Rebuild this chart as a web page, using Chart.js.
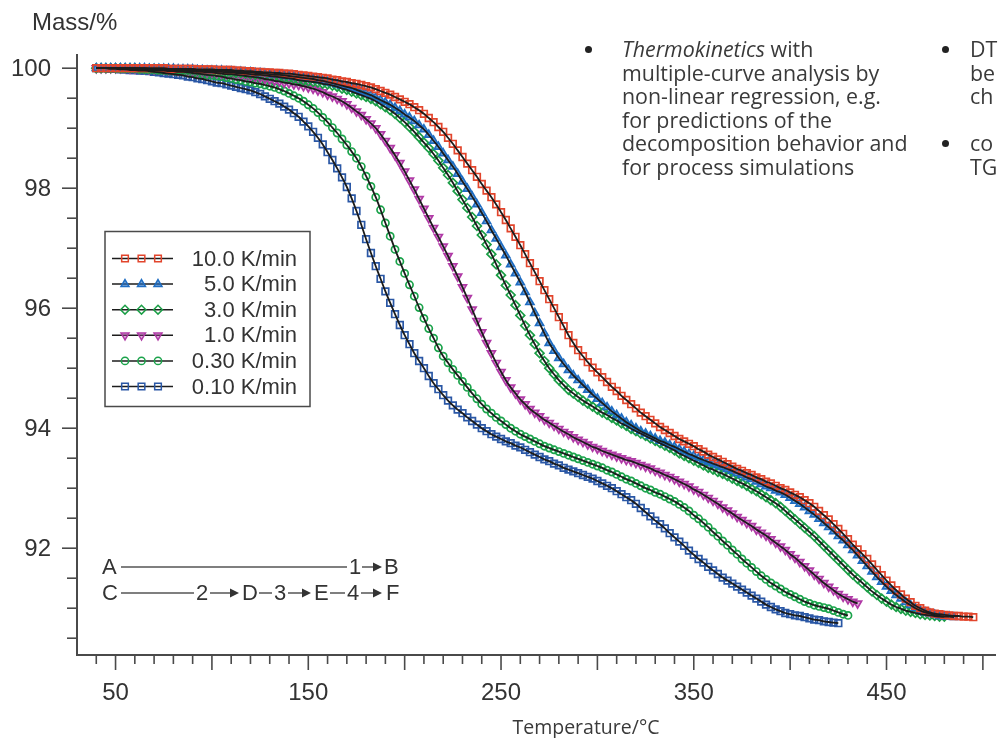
<!DOCTYPE html>
<html>
<head>
<meta charset="utf-8">
<script src="https://cdn.jsdelivr.net/npm/chart.js@4.4.1/dist/chart.umd.min.js"></script>
<style>
html, body { margin: 0; padding: 0; background: #fff; overflow: hidden; }
#wrap { position: relative; width: 1002px; height: 738px; overflow: hidden; }
#tga { position: absolute; left: 0; top: 0; }
.note { position: absolute; font-family: "Open Sans", sans-serif; font-size: 21.4px; line-height: 23.5px; color: #3a3a3a; white-space: nowrap; }
.dot { position: absolute; width: 7px; height: 7px; border-radius: 50%; background: #222; }
#xtitle { position: absolute; left: 0; width: 1172px; top: 714px; line-height: 26px; text-align: center; font-family: "Open Sans", sans-serif; font-size: 19.5px; color: #3a3a3a; }
</style>
</head>
<body>
<div id="wrap">
  <canvas id="tga" width="1002" height="738"></canvas>
  <div class="dot" style="left:585px; top:46px;"></div>
  <div class="note" style="left:622px; top:37px;"><i>Thermokinetics</i> with<br>multiple-curve analysis by<br>non-linear regression, e.g.<br>for predictions of the<br>decomposition behavior and<br>for process simulations</div>
  <div class="dot" style="left:942px; top:46px;"></div>
  <div class="note" style="left:970px; top:37px;">DT<br>be<br>ch</div>
  <div class="dot" style="left:942px; top:140px;"></div>
  <div class="note" style="left:970px; top:131px;">co<br>TG</div>
  <div id="xtitle">Temperature/°C</div>
</div>
<script>
// temperatures the markers sit at (°C)
const temps = [40, 42.5, 45, 47.5, 50, 52.5, 55, 57.5, 60, 62.5, 65, 67.5, 70, 72.5, 75, 77.5, 80, 82.5, 85, 87.5,
  90, 92.5, 95, 97.5, 100, 102.5, 105, 107.5, 110, 112.5, 115, 117.5, 120, 122.5, 125, 127.5, 130, 132.5, 135, 137.5,
  140, 142.5, 145, 147.5, 150, 152.5, 155, 157.5, 160, 162.5, 165, 167.5, 170, 172.5, 175, 177.5, 180, 182.5, 185, 187.5,
  190, 192.5, 195, 197.5, 200, 202.5, 205, 207.5, 210, 212.5, 215, 217.5, 220, 222.5, 225, 227.5, 230, 232.5, 235, 237.5,
  240, 242.5, 245, 247.5, 250, 252.5, 255, 257.5, 260, 262.5, 265, 267.5, 270, 272.5, 275, 277.5, 280, 282.5, 285, 287.5,
  290, 292.5, 295, 297.5, 300, 302.5, 305, 307.5, 310, 312.5, 315, 317.5, 320, 322.5, 325, 327.5, 330, 332.5, 335, 337.5,
  340, 342.5, 345, 347.5, 350, 352.5, 355, 357.5, 360, 362.5, 365, 367.5, 370, 372.5, 375, 377.5, 380, 382.5, 385, 387.5,
  390, 392.5, 395, 397.5, 400, 402.5, 405, 407.5, 410, 412.5, 415, 417.5, 420, 422.5, 425, 427.5, 430, 432.5, 435, 437.5,
  440, 442.5, 445, 447.5, 450, 452.5, 455, 457.5, 460, 462.5, 465, 467.5, 470, 472.5, 475, 477.5, 480, 482.5, 485, 487.5,
  490, 492.5, 495];

// mass in % per heating rate, one value per temperature above
const mass10 = [100.00, 100.00, 100.00, 100.00, 100.00, 100.00, 100.00, 100.00, 100.00, 100.00, 100.00, 100.00, 100.00, 100.00, 100.00, 99.99, 99.99, 99.99, 99.99, 99.99,
  99.99, 99.98, 99.98, 99.98, 99.98, 99.97, 99.97, 99.97, 99.97, 99.96, 99.96, 99.95, 99.95, 99.94, 99.94, 99.93, 99.93, 99.92, 99.92, 99.91,
  99.91, 99.90, 99.89, 99.88, 99.87, 99.86, 99.85, 99.84, 99.83, 99.81, 99.80, 99.78, 99.77, 99.75, 99.74, 99.72, 99.70, 99.68, 99.65, 99.62,
  99.59, 99.56, 99.52, 99.48, 99.44, 99.40, 99.35, 99.30, 99.24, 99.17, 99.10, 99.02, 98.94, 98.84, 98.74, 98.63, 98.52, 98.41, 98.30, 98.19,
  98.07, 97.96, 97.85, 97.73, 97.60, 97.47, 97.33, 97.19, 97.05, 96.90, 96.75, 96.60, 96.45, 96.30, 96.15, 96.00, 95.85, 95.70, 95.55, 95.42,
  95.30, 95.20, 95.10, 95.01, 94.93, 94.85, 94.77, 94.69, 94.62, 94.54, 94.47, 94.40, 94.33, 94.26, 94.20, 94.14, 94.08, 94.02, 93.97, 93.92,
  93.87, 93.82, 93.78, 93.74, 93.70, 93.65, 93.61, 93.56, 93.52, 93.48, 93.44, 93.40, 93.36, 93.32, 93.29, 93.25, 93.22, 93.18, 93.15, 93.11,
  93.08, 93.04, 93.00, 92.97, 92.93, 92.89, 92.85, 92.80, 92.75, 92.69, 92.62, 92.55, 92.48, 92.40, 92.32, 92.24, 92.15, 92.06, 91.98, 91.90,
  91.82, 91.73, 91.64, 91.55, 91.46, 91.38, 91.30, 91.23, 91.16, 91.10, 91.04, 91.00, 90.96, 90.93, 90.91, 90.90, 90.89, 90.88, 90.87, 90.87,
  90.86, 90.86, 90.85];
const mass5 = [100.00, 100.00, 100.00, 100.00, 100.00, 100.00, 100.00, 100.00, 100.00, 100.00, 100.00, 99.99, 99.99, 99.99, 99.99, 99.99, 99.99, 99.98, 99.98, 99.98,
  99.98, 99.97, 99.97, 99.96, 99.96, 99.96, 99.96, 99.95, 99.95, 99.94, 99.94, 99.93, 99.93, 99.92, 99.92, 99.91, 99.90, 99.89, 99.89, 99.88,
  99.87, 99.86, 99.85, 99.84, 99.83, 99.82, 99.80, 99.79, 99.77, 99.75, 99.73, 99.71, 99.69, 99.67, 99.64, 99.61, 99.58, 99.55, 99.51, 99.47,
  99.43, 99.39, 99.34, 99.29, 99.23, 99.18, 99.12, 99.05, 98.98, 98.89, 98.79, 98.69, 98.58, 98.47, 98.36, 98.24, 98.11, 97.99, 97.86, 97.73,
  97.59, 97.45, 97.30, 97.16, 97.02, 96.88, 96.73, 96.58, 96.43, 96.27, 96.10, 95.92, 95.75, 95.58, 95.42, 95.29, 95.17, 95.07, 94.97, 94.88,
  94.80, 94.72, 94.64, 94.56, 94.49, 94.42, 94.35, 94.28, 94.22, 94.16, 94.10, 94.05, 94.00, 93.95, 93.91, 93.87, 93.83, 93.79, 93.76, 93.72,
  93.69, 93.65, 93.61, 93.57, 93.54, 93.50, 93.47, 93.44, 93.41, 93.38, 93.35, 93.32, 93.29, 93.25, 93.22, 93.18, 93.15, 93.11, 93.07, 93.03,
  93.00, 92.96, 92.93, 92.89, 92.84, 92.79, 92.74, 92.68, 92.62, 92.56, 92.49, 92.42, 92.35, 92.28, 92.20, 92.13, 92.05, 91.97, 91.88, 91.79,
  91.70, 91.61, 91.52, 91.44, 91.36, 91.29, 91.22, 91.16, 91.10, 91.05, 91.00, 90.96, 90.93, 90.91, 90.89, 90.87, 90.86, 90.86, 90.85];
const mass3 = [100.00, 100.00, 100.00, 100.00, 100.00, 100.00, 100.00, 100.00, 100.00, 99.99, 99.99, 99.99, 99.99, 99.98, 99.98, 99.98, 99.98, 99.97, 99.97, 99.97,
  99.97, 99.96, 99.96, 99.95, 99.95, 99.94, 99.94, 99.93, 99.93, 99.92, 99.92, 99.91, 99.90, 99.89, 99.89, 99.88, 99.87, 99.86, 99.85, 99.84,
  99.83, 99.82, 99.80, 99.79, 99.78, 99.77, 99.76, 99.74, 99.73, 99.71, 99.69, 99.66, 99.64, 99.61, 99.58, 99.55, 99.52, 99.49, 99.45, 99.40,
  99.35, 99.30, 99.24, 99.17, 99.10, 99.02, 98.94, 98.85, 98.76, 98.67, 98.57, 98.46, 98.34, 98.22, 98.09, 97.95, 97.81, 97.67, 97.52, 97.37,
  97.22, 97.06, 96.90, 96.73, 96.55, 96.38, 96.22, 96.05, 95.88, 95.71, 95.55, 95.40, 95.25, 95.12, 95.00, 94.90, 94.80, 94.72, 94.64, 94.58,
  94.52, 94.46, 94.41, 94.36, 94.31, 94.26, 94.22, 94.17, 94.13, 94.08, 94.04, 93.99, 93.95, 93.91, 93.87, 93.83, 93.79, 93.75, 93.71, 93.67,
  93.63, 93.58, 93.54, 93.50, 93.46, 93.42, 93.38, 93.34, 93.31, 93.27, 93.24, 93.20, 93.16, 93.12, 93.08, 93.04, 92.99, 92.95, 92.90, 92.85,
  92.80, 92.75, 92.69, 92.62, 92.55, 92.48, 92.41, 92.34, 92.27, 92.20, 92.12, 92.04, 91.96, 91.88, 91.80, 91.72, 91.64, 91.56, 91.49, 91.42,
  91.35, 91.28, 91.22, 91.16, 91.11, 91.06, 91.02, 90.99, 90.96, 90.94, 90.92, 90.90, 90.89, 90.88, 90.87, 90.86, 90.86];
const mass1 = [100.00, 100.00, 100.00, 100.00, 100.00, 100.00, 100.00, 99.99, 99.99, 99.99, 99.99, 99.98, 99.98, 99.98, 99.98, 99.97, 99.97, 99.96, 99.96, 99.95,
  99.95, 99.94, 99.94, 99.93, 99.93, 99.92, 99.91, 99.90, 99.90, 99.89, 99.88, 99.87, 99.86, 99.85, 99.84, 99.82, 99.81, 99.79, 99.78, 99.76,
  99.75, 99.73, 99.72, 99.70, 99.68, 99.66, 99.63, 99.60, 99.56, 99.53, 99.49, 99.45, 99.40, 99.34, 99.28, 99.22, 99.15, 99.08, 99.00, 98.90,
  98.79, 98.67, 98.55, 98.42, 98.28, 98.13, 97.98, 97.82, 97.66, 97.50, 97.34, 97.19, 97.03, 96.87, 96.70, 96.53, 96.35, 96.17, 95.98, 95.79,
  95.60, 95.42, 95.25, 95.09, 94.94, 94.80, 94.68, 94.58, 94.48, 94.40, 94.32, 94.26, 94.20, 94.14, 94.09, 94.04, 93.99, 93.94, 93.90, 93.85,
  93.81, 93.77, 93.73, 93.69, 93.66, 93.62, 93.59, 93.56, 93.53, 93.50, 93.47, 93.45, 93.42, 93.39, 93.36, 93.33, 93.29, 93.26, 93.22, 93.19,
  93.15, 93.11, 93.07, 93.03, 92.98, 92.94, 92.89, 92.84, 92.79, 92.74, 92.68, 92.63, 92.58, 92.52, 92.47, 92.42, 92.37, 92.31, 92.26, 92.21,
  92.15, 92.09, 92.03, 91.97, 91.90, 91.84, 91.77, 91.70, 91.63, 91.56, 91.49, 91.42, 91.36, 91.30, 91.24, 91.19, 91.15, 91.11, 91.08];
const mass03 = [100.00, 100.00, 100.00, 100.00, 100.00, 99.99, 99.99, 99.99, 99.99, 99.98, 99.98, 99.97, 99.97, 99.96, 99.96, 99.95, 99.95, 99.94, 99.94, 99.93,
  99.92, 99.91, 99.90, 99.89, 99.88, 99.87, 99.86, 99.84, 99.83, 99.81, 99.80, 99.78, 99.77, 99.75, 99.74, 99.72, 99.70, 99.68, 99.65, 99.62,
  99.58, 99.54, 99.50, 99.45, 99.39, 99.33, 99.26, 99.18, 99.10, 99.01, 98.92, 98.82, 98.72, 98.61, 98.50, 98.36, 98.20, 98.03, 97.85, 97.64,
  97.42, 97.20, 96.98, 96.78, 96.58, 96.39, 96.20, 96.01, 95.83, 95.66, 95.50, 95.34, 95.20, 95.09, 94.98, 94.88, 94.78, 94.68, 94.58, 94.49,
  94.40, 94.32, 94.25, 94.18, 94.12, 94.06, 94.00, 93.95, 93.90, 93.86, 93.82, 93.78, 93.74, 93.70, 93.67, 93.64, 93.61, 93.58, 93.55, 93.52,
  93.49, 93.46, 93.43, 93.40, 93.37, 93.34, 93.30, 93.27, 93.23, 93.19, 93.15, 93.12, 93.08, 93.04, 93.00, 92.97, 92.93, 92.90, 92.86, 92.82,
  92.78, 92.73, 92.68, 92.62, 92.55, 92.49, 92.42, 92.35, 92.27, 92.20, 92.12, 92.05, 91.97, 91.90, 91.82, 91.75, 91.68, 91.61, 91.54, 91.48,
  91.42, 91.37, 91.32, 91.27, 91.23, 91.19, 91.15, 91.11, 91.08, 91.05, 91.03, 91.01, 90.99, 90.96, 90.93, 90.90, 90.88];
const mass01 = [100.00, 100.00, 100.00, 99.99, 99.99, 99.98, 99.98, 99.97, 99.97, 99.96, 99.96, 99.95, 99.94, 99.93, 99.92, 99.91, 99.90, 99.89, 99.88, 99.86,
  99.85, 99.83, 99.82, 99.80, 99.78, 99.76, 99.75, 99.73, 99.71, 99.69, 99.67, 99.65, 99.63, 99.60, 99.57, 99.53, 99.49, 99.45, 99.41, 99.36,
  99.31, 99.25, 99.19, 99.11, 99.03, 98.94, 98.84, 98.73, 98.60, 98.47, 98.33, 98.18, 98.02, 97.83, 97.62, 97.39, 97.15, 96.92, 96.70, 96.49,
  96.28, 96.09, 95.90, 95.72, 95.55, 95.40, 95.25, 95.12, 95.00, 94.87, 94.75, 94.65, 94.55, 94.46, 94.38, 94.31, 94.25, 94.18, 94.12, 94.06,
  94.00, 93.95, 93.90, 93.86, 93.82, 93.78, 93.75, 93.71, 93.68, 93.64, 93.60, 93.56, 93.52, 93.48, 93.45, 93.41, 93.38, 93.34, 93.31, 93.28,
  93.25, 93.22, 93.19, 93.16, 93.12, 93.08, 93.04, 93.00, 92.95, 92.90, 92.85, 92.80, 92.74, 92.67, 92.60, 92.53, 92.46, 92.40, 92.33, 92.25,
  92.18, 92.11, 92.04, 91.96, 91.89, 91.82, 91.76, 91.69, 91.63, 91.57, 91.51, 91.46, 91.41, 91.36, 91.31, 91.26, 91.21, 91.16, 91.11, 91.06,
  91.02, 90.98, 90.95, 90.92, 90.90, 90.88, 90.87, 90.85, 90.83, 90.81, 90.80, 90.78, 90.77, 90.76, 90.75];

const rateLabels = ["10.0 K/min", "5.0 K/min", "3.0 K/min", "1.0 K/min", "0.30 K/min", "0.10 K/min"];

// axis labels
const xLabels = [50, 150, 250, 350, 450];
const yLabels = [92, 94, 96, 98, 100];

const axisColor = "#4a4a4a";
const textColor = "#333";
const fitColor = "#1c1c1c";
const labelFont = "24px 'Liberation Sans', Arial, sans-serif";
const smallFont = "22px 'Liberation Sans', Arial, sans-serif";

// marker look per series, same order as rateLabels
const looks = [
  { style: "rect", rot: 0, r: 4.7, color: "#e2452c", fill: "rgba(0,0,0,0)" },
  { style: "triangle", rot: 0, r: 4.6, color: "#1f6dc2", fill: "rgba(31,109,194,0.6)" },
  { style: "rectRot", rot: 0, r: 4.4, color: "#1b9e46", fill: "rgba(0,0,0,0)" },
  { style: "triangle", rot: 180, r: 4.6, color: "#b03aa6", fill: "rgba(176,58,166,0.4)" },
  { style: "circle", rot: 0, r: 3.6, color: "#1ba34b", fill: "rgba(0,0,0,0)" },
  { style: "rect", rot: 0, r: 4.7, color: "#2a57a5", fill: "rgba(0,0,0,0)" }
];
const series = [mass10, mass5, mass3, mass1, mass03, mass01];

function pts(vals) {
  return vals.map((m, i) => ({ x: temps[i], y: m }));
}

// black fit lines go first so they are drawn on top of the markers
let datasets = series.map(v => ({
  data: pts(v),
  showLine: true,
  borderColor: fitColor,
  borderWidth: 1.8,
  pointRadius: 0,
  cubicInterpolationMode: "monotone"
}));
series.forEach((v, k) => {
  const lk = looks[k];
  datasets.push({
    data: pts(v),
    showLine: false,
    pointStyle: lk.style,
    pointRotation: lk.rot,
    pointRadius: lk.r,
    pointBorderWidth: 1.7,
    pointBorderColor: lk.color,
    pointBackgroundColor: lk.fill
  });
});

// ticks, tick labels, legend box and the reaction scheme
const decor = {
  id: "decor",
  afterDraw(chart) {
    const ctx = chart.ctx, xs = chart.scales.x, ys = chart.scales.y;
    const left = chart.chartArea.left, bottom = chart.chartArea.bottom;
    ctx.save();
    ctx.strokeStyle = axisColor;
    ctx.lineWidth = 1.6;
    ctx.fillStyle = textColor;
    ctx.font = labelFont;

    // y ticks every 0.5, long ones at the labels
    ctx.textAlign = "right";
    ctx.textBaseline = "middle";
    for (let v = 90.5; v <= 100.001; v += 0.5) {
      const py = ys.getPixelForValue(v);
      const major = yLabels.some(l => Math.abs(l - v) < 1e-6);
      ctx.beginPath();
      ctx.moveTo(left, py);
      ctx.lineTo(left - (major ? 15 : 10), py);
      ctx.stroke();
      if (major) ctx.fillText(String(Math.round(v)), 51, py + 1);
    }

    // x ticks every 10, long ones every 50
    ctx.textAlign = "center";
    for (let v = 40; v <= 500; v += 10) {
      const px = xs.getPixelForValue(v);
      const major = v % 50 === 0;
      ctx.beginPath();
      ctx.moveTo(px, bottom);
      ctx.lineTo(px, bottom + (major ? 15 : 9));
      ctx.stroke();
      if (xLabels.includes(v)) ctx.fillText(String(v), px, 693);
    }

    // y axis title
    ctx.textAlign = "left";
    ctx.fillText("Mass/%", 32, 23);

    // legend
    ctx.font = smallFont;
    ctx.lineWidth = 1.5;
    ctx.strokeRect(105, 231.5, 205, 175);
    ctx.textAlign = "right";
    rateLabels.forEach((lab, k) => {
      const y = 258.5 + k * 25.6;
      const lk = looks[k];
      ctx.lineWidth = 1.5;
      ctx.strokeStyle = fitColor;
      ctx.beginPath();
      ctx.moveTo(112, y);
      ctx.lineTo(173, y);
      ctx.stroke();
      ctx.strokeStyle = lk.color;
      ctx.fillStyle = lk.fill;
      [125, 141.5, 158].forEach(mx => {
        Chart.helpers.drawPoint(ctx, { pointStyle: lk.style, rotation: lk.rot, radius: lk.r, borderWidth: 1.6 }, mx, y);
      });
      ctx.fillStyle = textColor;
      ctx.fillText(lab, 297, y + 1);
    });

    // reaction scheme A -1-> B, C -2-> D -3-> E -4-> F
    ctx.strokeStyle = "#555";
    ctx.fillStyle = textColor;
    ctx.lineWidth = 1.5;
    ctx.textAlign = "left";
    const seg = (x1, x2, y) => {
      ctx.beginPath(); ctx.moveTo(x1, y); ctx.lineTo(x2, y); ctx.stroke();
    };
    const arrow = (x1, x2, y) => {
      seg(x1, x2 - 6, y);
      ctx.beginPath();
      ctx.moveTo(x2, y);
      ctx.lineTo(x2 - 9, y - 4.5);
      ctx.lineTo(x2 - 9, y + 4.5);
      ctx.closePath();
      ctx.fill();
    };
    let y1 = 567, y2 = 593;
    ctx.fillText("A", 102, y1 + 1);
    seg(121, 347, y1);
    ctx.fillText("1", 349, y1 + 1);
    arrow(362, 382, y1);
    ctx.fillText("B", 384, y1 + 1);
    ctx.fillText("C", 102, y2 + 1);
    seg(121, 194, y2);
    ctx.fillText("2", 196, y2 + 1);
    arrow(210, 239, y2);
    ctx.fillText("D", 242, y2 + 1);
    seg(259, 272, y2);
    ctx.fillText("3", 274, y2 + 1);
    arrow(288, 311, y2);
    ctx.fillText("E", 314, y2 + 1);
    seg(330, 345, y2);
    ctx.fillText("4", 347, y2 + 1);
    arrow(361, 382, y2);
    ctx.fillText("F", 386, y2 + 1);
    ctx.restore();
  }
};

const ctx = document.getElementById("tga").getContext("2d");
const chart = new Chart(ctx, {
  type: "scatter",
  data: { datasets: datasets },
  options: {
    responsive: false,
    animation: false,
    layout: { padding: { left: 77, top: 55, right: 0, bottom: 83 } },
    plugins: { legend: { display: false }, tooltip: { enabled: false } },
    scales: {
      x: {
        type: "linear", min: 30, max: 506.6,
        grid: { display: false, drawTicks: false },
        ticks: { display: false },
        border: { display: true, color: axisColor, width: 2 }
      },
      y: {
        type: "linear", min: 90.22, max: 100.22,
        grid: { display: false, drawTicks: false },
        ticks: { display: false },
        border: { display: true, color: axisColor, width: 2 }
      }
    }
  },
  plugins: [decor]
});
</script>
</body>
</html>
